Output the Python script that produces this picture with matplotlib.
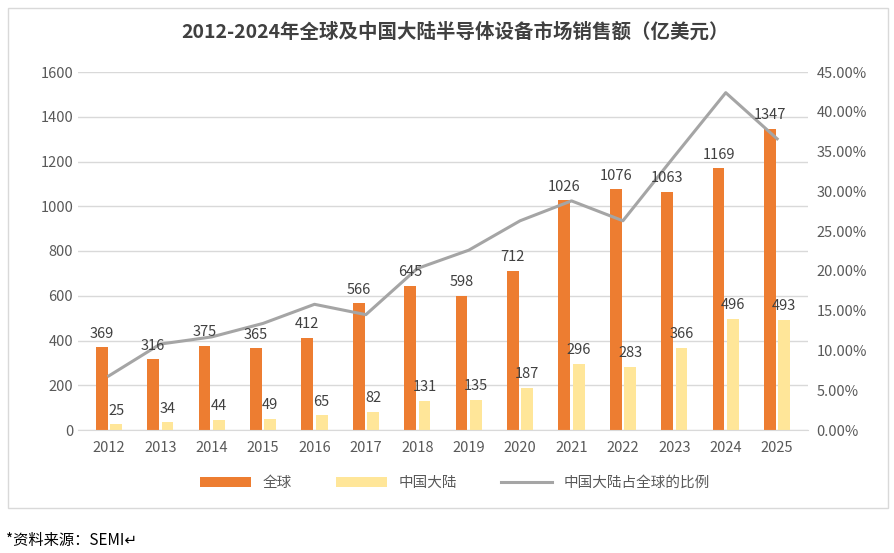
import matplotlib
matplotlib.use("Agg")
import matplotlib.pyplot as plt
from matplotlib.patches import Rectangle
import numpy as np

plt.rcParams['font.family'] = ['Noto Sans CJK SC', 'DejaVu Sans']

years = ['2012','2013','2014','2015','2016','2017','2018','2019','2020','2021','2022','2023','2024','2025']
global_sales = [369,316,375,365,412,566,645,598,712,1026,1076,1063,1169,1347]
china_sales = [25,34,44,49,65,82,131,135,187,296,283,366,496,493]
ratio = [6.8,10.8,11.7,13.4,15.8,14.5,20.3,22.6,26.3,28.8,26.3,34.4,42.4,36.6]

fig = plt.figure(figsize=(8.95,5.53), dpi=100)
fig.patches.append(Rectangle((8/895, 1-508/553), 880/895, 500/553, transform=fig.transFigure,
                             fill=False, edgecolor='#d9d9d9', lw=1))
ax = fig.add_axes([78/895, 1-430/553, 730/895, 358/553])
ax2 = ax.twinx()
x = np.arange(len(years))
w = 0.23
ax.bar(x-0.14, global_sales, w, color='#ed7d31', label='全球')
ax.bar(x+0.14, china_sales, w, color='#ffe699', label='中国大陆')
ln, = ax2.plot(x, ratio, color='#a5a5a5', lw=2.2, label='中国大陆占全球的比例', zorder=1)
for i in x:
    ax2.text(i-0.14, global_sales[i]+30, str(global_sales[i]), ha='center', va='bottom', fontsize=10.5,
             color='#404040', transform=ax.transData, zorder=5)
    ax2.text(i+0.14, china_sales[i]+30, str(china_sales[i]), ha='center', va='bottom', fontsize=10.5,
             color='#404040', transform=ax.transData, zorder=5)
ax.set_ylim(0,1600)
ax.set_yticks(range(0,1601,200))
ax2.set_ylim(0,45)
ax2.set_yticks(np.arange(0,45.1,5))
ax2.set_yticklabels([f'{v:.2f}%' for v in np.arange(0,45.1,5)])
ax.set_xlim(-0.6, len(years)-0.4)
ax.set_xticks(x)
ax.set_xticklabels(years)
ax.grid(axis='y', color='#d9d9d9', lw=1)
ax.set_axisbelow(True)
for a in (ax, ax2):
    for s in a.spines.values():
        s.set_visible(False)
    a.tick_params(length=0, labelsize=10.5, colors='#595959')
ax.spines['bottom'].set_visible(True)
ax.spines['bottom'].set_color('#d9d9d9')
ax.tick_params(axis='x', pad=8)
ax2.tick_params(pad=6)
fig.text(455/895, 1-32/553, '2012-2024年全球及中国大陆半导体设备市场销售额（亿美元）', ha='center', va='center',
         fontsize=14, fontweight='bold', color='#404040')
h1, l1 = ax.get_legend_handles_labels()
fig.legend(h1+[ln], l1+[ln.get_label()], loc='center', bbox_to_anchor=(455/895, 1-483/553), ncol=3,
           frameon=False, fontsize=10.5, labelcolor='#595959', columnspacing=3, handlelength=3.5)
fig.text(6/895, 1-540/553, '*资料来源：SEMI↵', ha='left', va='center', fontsize=11, color='#000000')
fig.savefig('out.png', dpi=100)
